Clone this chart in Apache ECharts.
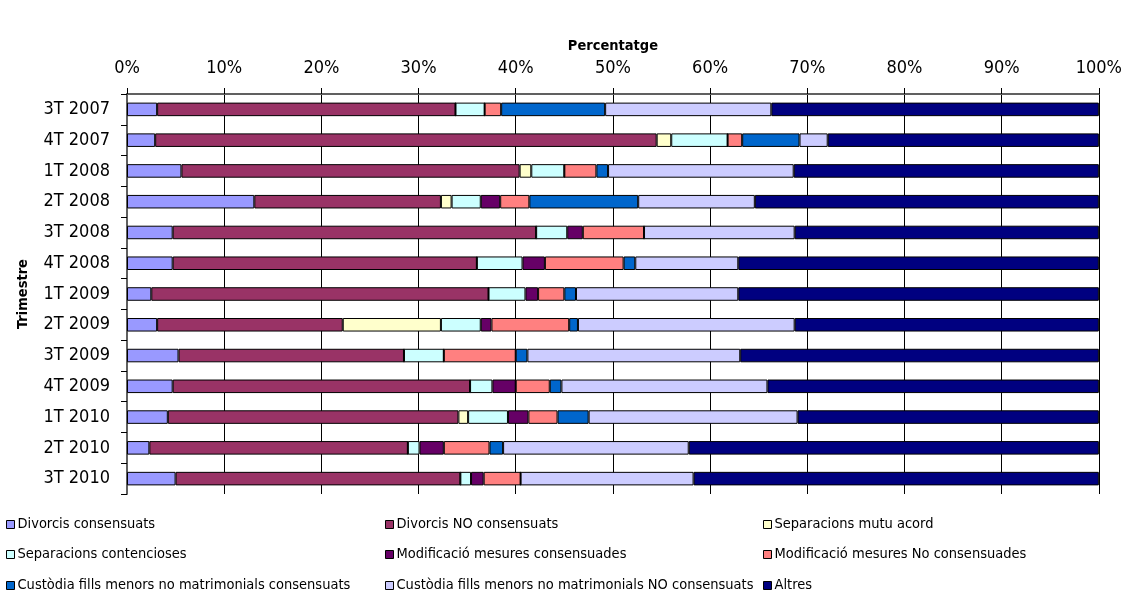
<!DOCTYPE html>
<html>
<head>
<meta charset="utf-8">
<script src="https://cdn.jsdelivr.net/npm/echarts@6/dist/echarts.min.js"></script>
<style>
  html, body { margin: 0; padding: 0; background: #fff; }
  #chart { width: 1125px; height: 595px; }
</style>
</head>
<body>
<div id="chart"></div>
<script>
// trimestres (de dalt a baix)
const trimestres = ['3T 2007', '4T 2007', '1T 2008', '2T 2008', '3T 2008', '4T 2008', '1T 2009',
  '2T 2009', '3T 2009', '4T 2009', '1T 2010', '2T 2010', '3T 2010']
const xTicks = [0, 10, 20, 30, 40, 50, 60, 70, 80, 90, 100]

// percentatges per tipus
const divorcisConsensuats = [3.1, 2.9, 5.6, 13.1, 4.7, 4.7, 2.5, 3.1, 5.3, 4.7, 4.2, 2.3, 5.0]
const divorcisNo = [30.7, 51.6, 34.8, 19.2, 37.4, 31.3, 34.7, 19.1, 23.2, 30.6, 29.9, 26.6, 29.3]
const separacionsMutu = [0, 1.5, 1.2, 1.1, 0, 0, 0, 10.1, 0, 0, 1.0, 0, 0]
const separacionsCont = [3.0, 5.8, 3.4, 3.0, 3.2, 4.7, 3.8, 4.1, 4.1, 2.3, 4.1, 1.2, 1.1]
const modificacioCons = [0, 0, 0, 2.0, 1.6, 2.3, 1.3, 1.1, 0, 2.4, 2.1, 2.5, 1.3]
const modificacioNo = [1.7, 1.5, 3.3, 3.0, 6.3, 8.1, 2.7, 8.0, 7.4, 3.5, 3.0, 4.7, 3.8]
const custodiaCons = [10.7, 5.9, 1.2, 11.2, 0, 1.2, 1.2, 0.9, 1.2, 1.2, 3.2, 1.4, 0]
const custodiaNo = [17.1, 2.9, 19.1, 12.0, 15.5, 10.6, 16.7, 22.3, 21.9, 21.2, 21.5, 19.1, 17.8]
const altres = [33.7, 27.9, 31.4, 35.4, 31.3, 37.1, 37.1, 31.3, 36.9, 34.1, 31.0, 42.2, 41.7]

const seriesList = [
  { name: 'Divorcis consensuats', data: divorcisConsensuats, color: '#9999ff' },
  { name: 'Divorcis NO consensuats', data: divorcisNo, color: '#993366' },
  { name: 'Separacions mutu acord', data: separacionsMutu, color: '#ffffcc' },
  { name: 'Separacions contencioses', data: separacionsCont, color: '#ccffff' },
  { name: 'Modificació mesures consensuades', data: modificacioCons, color: '#660066' },
  { name: 'Modificació mesures No consensuades', data: modificacioNo, color: '#ff8080' },
  { name: 'Custòdia fills menors no matrimonials consensuats', data: custodiaCons, color: '#0066cc' },
  { name: 'Custòdia fills menors no matrimonials NO consensuats', data: custodiaNo, color: '#ccccff' },
  { name: 'Altres', data: altres, color: '#000080' }
]

const font = "'Liberation Sans Narrow', 'DejaVu Sans Condensed', sans-serif"

// llegenda: 3 columnes x 3 files, un element per component
const colLeft = [6, 385, 763]
const rowTop = [517, 547, 578]
const legends = seriesList.map((s, i) => ({
  left: colLeft[i % 3],
  top: rowTop[Math.floor(i / 3)],
  padding: 0,
  itemWidth: 8,
  itemHeight: 8,
  icon: 'rect',
  selectedMode: false,
  itemStyle: { borderColor: '#000', borderWidth: 1 },
  textStyle: { fontFamily: font, fontSize: 14.5, color: '#000', padding: [0, 0, 0, -2] },
  data: [s.name]
}))

const option = {
  animation: false,
  backgroundColor: '#fff',
  grid: { left: 127, right: 26, top: 94, bottom: 101 },
  legend: legends,
  xAxis: {
    type: 'value',
    position: 'top',
    min: xTicks[0],
    max: xTicks[xTicks.length - 1],
    interval: 10,
    name: 'Percentatge',
    nameLocation: 'middle',
    nameGap: 39,
    nameTextStyle: { fontFamily: font, fontSize: 14.5, fontWeight: 'bold', color: '#000' },
    axisLine: { show: true, lineStyle: { color: '#606060', width: 2 } },
    axisTick: { show: true, length: 6, lineStyle: { color: '#000' } },
    axisLabel: { fontFamily: font, fontSize: 18, color: '#000', margin: 17, formatter: '{value}%' },
    splitLine: { show: true, lineStyle: { color: '#000', width: 1 } }
  },
  yAxis: {
    type: 'category',
    inverse: true,
    data: trimestres,
    name: 'Trimestre',
    nameLocation: 'middle',
    nameRotate: 90,
    nameGap: 96,
    nameTextStyle: { fontFamily: font, fontSize: 14.5, fontWeight: 'bold', color: '#000' },
    axisLine: { show: true, lineStyle: { color: '#606060', width: 2 } },
    axisTick: { show: true, length: 6, lineStyle: { color: '#000' } },
    axisLabel: { fontFamily: font, fontSize: 18, color: '#000', margin: 17 }
  },
  series: seriesList.map(s => ({
    name: s.name,
    type: 'bar',
    stack: 'total',
    barWidth: '44%',
    data: s.data,
    itemStyle: { color: s.color, borderColor: '#000', borderWidth: 1 }
  }))
}

const chart = echarts.init(document.getElementById('chart'))
chart.setOption(option)
</script>
</body>
</html>
